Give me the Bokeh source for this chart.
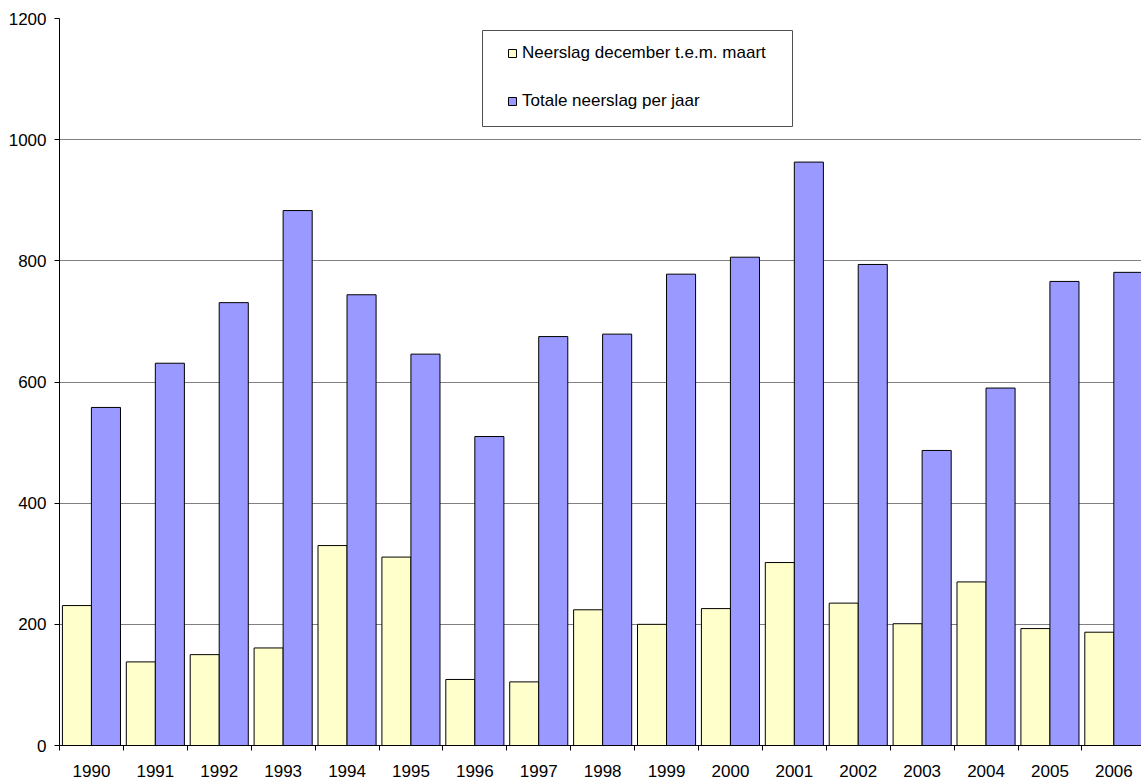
from bokeh.plotting import figure
from bokeh.models import (ColumnDataSource, Range1d, FixedTicker, Legend, LegendItem,
                          BoxAnnotation)
from bokeh.embed import file_html
from bokeh.resources import INLINE

# ---- data ----
years = ["1990", "1991", "1992", "1993", "1994", "1995", "1996", "1997", "1998",
         "1999", "2000", "2001", "2002", "2003", "2004", "2005", "2006"]
winter = [231, 138, 150, 161, 330, 311, 109, 105, 224, 200, 226, 302, 235, 201, 270, 193, 187]
total = [558, 631, 731, 883, 744, 646, 510, 675, 679, 778, 806, 963, 794, 487, 590, 766, 781]
y_ticks = [0, 200, 400, 600, 800, 1000, 1200]
label_winter = "Neerslag december t.e.m. maart"
label_total = "Totale neerslag per jaar"

# ---- layout constants ----
FONT = "Liberation Sans"
W, H = 1141, 779
BL, BR, BT, BB = 59, 0, 18, 34
frame_w = W - BL - BR
frame_h = H - BT - BB
cat_px = 63.9
x_end = frame_w / cat_px
bar_w = 0.455

idx = list(range(len(years)))
src = ColumnDataSource(dict(
    xw=[i + 0.273 for i in idx],
    xt=[i + 0.727 for i in idx],
    winter=winter,
    total=total,
))

p = figure(width=W, height=H, output_backend="svg", toolbar_location=None,
           x_range=Range1d(0, x_end), y_range=Range1d(0, 1200),
           min_border_left=BL, min_border_right=BR, min_border_top=BT,
           min_border_bottom=BB)
p.outline_line_color = None
p.background_fill_color = "white"
p.border_fill_color = "white"

r_w = p.vbar(x="xw", top="winter", width=bar_w, source=src,
             fill_color="#FFFFCC", line_color="black", line_width=1)
r_t = p.vbar(x="xt", top="total", width=bar_w, source=src,
             fill_color="#9999FF", line_color="black", line_width=1)

# axes
p.xgrid.visible = False
p.ygrid.grid_line_color = "#808080"
p.ygrid.grid_line_width = 1
p.yaxis.ticker = FixedTicker(ticks=y_ticks)
p.yaxis.major_tick_out = 5
p.yaxis.major_tick_in = 0
p.yaxis.minor_tick_line_color = None
p.yaxis.major_label_standoff = 8
p.yaxis.axis_line_color = "black"
p.yaxis.major_tick_line_color = "black"

p.xaxis.ticker = FixedTicker(ticks=[i + 0.5 for i in idx],
                             minor_ticks=list(range(len(years) + 1)))
p.xaxis.major_label_overrides = {i + 0.5: y for i, y in zip(idx, years)}
p.xaxis.major_tick_out = 0
p.xaxis.major_tick_in = 0
p.xaxis.major_tick_line_color = None
p.xaxis.minor_tick_out = 5
p.xaxis.minor_tick_in = 0
p.xaxis.minor_tick_line_color = "black"
p.xaxis.axis_line_color = "black"
p.xaxis.major_label_standoff = 14

for ax in (p.xaxis, p.yaxis):
    ax.major_label_text_font = FONT
    ax.major_label_text_font_size = "17px"
    ax.major_label_text_color = "black"

# legend border box (frame px -> data)
ppu = frame_h / 1200.0
frame_left_px, frame_bottom_px = 61, 746
box = BoxAnnotation(left=(484 - frame_left_px) / cat_px,
                    right=(794 - frame_left_px) / cat_px,
                    top=(frame_bottom_px - 31) / ppu,
                    bottom=(frame_bottom_px - 127) / ppu,
                    fill_color=None, fill_alpha=0,
                    line_color="#505050", line_alpha=1, line_width=1)
p.add_layout(box)

legend = Legend(items=[LegendItem(label=label_winter, renderers=[r_w]),
                       LegendItem(label=label_total, renderers=[r_t])],
                location=(509 - frame_left_px, frame_bottom_px - 112),
                padding=0, spacing=28, label_height=20,
                glyph_width=10, glyph_height=10, label_standoff=5,
                border_line_color=None, background_fill_alpha=0,
                label_text_font=FONT, label_text_font_size="17px",
                label_text_color="black", margin=0)
p.add_layout(legend, "center")

open("out.html", "w").write(file_html(p, INLINE))
